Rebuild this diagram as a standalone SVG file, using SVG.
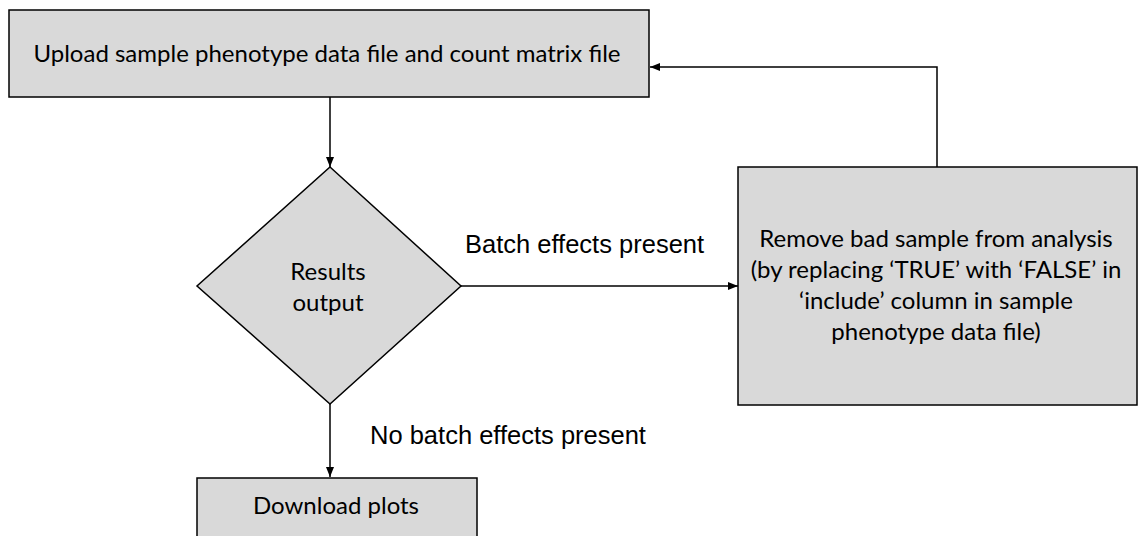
<svg xmlns="http://www.w3.org/2000/svg" width="1139" height="536" viewBox="0 0 1139 536">
<style>
.box{fill:#d9d9d9;stroke:#000;stroke-width:1.5}
.t{font-family:Lato,"Open Sans",sans-serif;font-size:24px;fill:#000;text-anchor:middle}
.lbl{font-family:"Liberation Sans",Arial,sans-serif;font-size:25.5px;fill:#000}
.c{fill:none;stroke:#000;stroke-width:1.5}
</style>
<defs>
<marker id="ah" viewBox="0 0 10 10" refX="10" refY="5" markerWidth="10" markerHeight="10" markerUnits="userSpaceOnUse" orient="auto">
<path d="M0,1 L10,5 L0,9 Z" fill="#000"/>
</marker>
</defs>
<rect width="1139" height="536" fill="#fff"/>
<g id="connectors">
<line class="c" x1="330" y1="97" x2="330" y2="167" marker-end="url(#ah)"/>
<line class="c" x1="461" y1="286" x2="738" y2="286" marker-end="url(#ah)"/>
<line class="c" x1="330" y1="404" x2="330" y2="477" marker-end="url(#ah)"/>
<polyline class="c" points="937,167 937,67 650,67" stroke-linejoin="miter" marker-end="url(#ah)"/>
</g>
<g id="upload">
<rect class="box" x="9" y="10" width="640" height="87"/>
<text class="t" x="327" y="62">Upload sample phenotype data file and count matrix file</text>
</g>
<g id="results">
<polygon class="box" points="330,167 461,286 330,404 197,286"/>
<text class="t" x="328" y="280">Results</text>
<text class="t" x="328" y="311">output</text>
</g>
<g id="remove">
<rect class="box" x="738" y="167" width="399" height="238"/>
<text class="t" x="936" y="247">Remove bad sample from analysis</text>
<text class="t" x="936" y="278">(by replacing ‘TRUE’ with ‘FALSE’ in</text>
<text class="t" x="936" y="309">‘include’ column in sample</text>
<text class="t" x="936" y="340">phenotype data file)</text>
</g>
<g id="download">
<rect class="box" x="197" y="478" width="280" height="70"/>
<text class="t" x="336" y="514">Download plots</text>
</g>
<g id="labels">
<text class="lbl" x="465" y="253">Batch effects present</text>
<text class="lbl" x="370" y="444">No batch effects present</text>
</g>
</svg>
